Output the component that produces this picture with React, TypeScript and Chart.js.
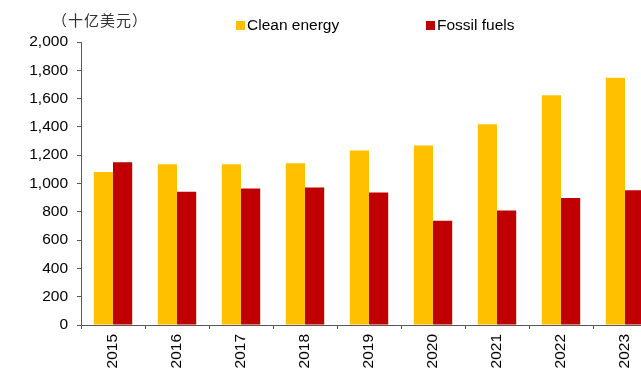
import { useEffect, useRef } from "react";
import { Chart, registerables } from "chart.js";

Chart.register(...registerables);

// Annual investment, billions of US dollars
const years = ["2015", "2016", "2017", "2018", "2019", "2020", "2021", "2022", "2023"];
const cleanEnergy = [1082, 1136, 1136, 1143, 1233, 1268, 1418, 1623, 1748];
const fossilFuels = [1150, 941, 965, 972, 936, 736, 809, 898, 953];

const yMin = 0;
const yMax = 2000;
const yStep = 200;

const unitLabel = "（十亿美元）";
const seriesNames = ["Clean energy", "Fossil fuels"];
const seriesColors = ["#FFC000", "#C00000"];

const AXIS_COLOR = "#595959";
const FONT = "'Liberation Sans', Arial, sans-serif";
const FONT_SIZE = 15.5;

export default function App() {
  const canvasRef = useRef<HTMLCanvasElement | null>(null);

  useEffect(() => {
    const canvas = canvasRef.current;
    if (!canvas) return;
    const chart = new Chart(canvas, {
      type: "bar",
      data: {
        labels: years,
        datasets: [
          {
            label: seriesNames[0],
            data: cleanEnergy,
            backgroundColor: seriesColors[0],
            borderWidth: 0,
          },
          {
            label: seriesNames[1],
            data: fossilFuels,
            backgroundColor: seriesColors[1],
            borderWidth: 0,
          },
        ],
      },
      options: {
        responsive: false,
        animation: false,
        devicePixelRatio: 1,
        locale: "en-US",
        layout: { padding: { top: 42, right: 3, left: 0, bottom: 0 } },
        datasets: {
          bar: { barPercentage: 1, categoryPercentage: 0.6 },
        },
        plugins: {
          legend: { display: false },
          tooltip: { enabled: false },
          title: { display: false },
        },
        scales: {
          x: {
            offset: true,
            grid: {
              offset: true,
              drawOnChartArea: false,
              drawTicks: true,
              tickLength: 4,
              color: AXIS_COLOR,
            },
            border: { display: true, color: AXIS_COLOR, width: 1 },
            ticks: {
              autoSkip: false,
              minRotation: 90,
              maxRotation: 90,
              padding: 5,
              color: "#000",
              font: { family: FONT, size: FONT_SIZE },
            },
            afterFit: (scale: any) => {
              scale.height = 43;
            },
          },
          y: {
            min: yMin,
            max: yMax,
            grid: {
              drawOnChartArea: false,
              drawTicks: true,
              tickLength: 4,
              color: AXIS_COLOR,
            },
            border: { display: true, color: AXIS_COLOR, width: 1 },
            ticks: {
              stepSize: yStep,
              padding: 9,
              color: "#000",
              font: { family: FONT, size: FONT_SIZE },
              callback: (v: any) => Number(v).toLocaleString("en-US"),
            },
            afterFit: (scale: any) => {
              scale.width = 81;
            },
          },
        },
      },
    });
    return () => chart.destroy();
  }, []);

  const legendText: React.CSSProperties = {
    position: "absolute",
    top: 15,
    fontFamily: FONT,
    fontSize: FONT_SIZE,
    lineHeight: "20px",
    color: "#000",
    whiteSpace: "nowrap",
  };
  const legendBox: React.CSSProperties = {
    position: "absolute",
    top: 21,
    width: 9,
    height: 9,
  };

  return (
    <div
      style={{
        position: "fixed",
        left: 0,
        top: 0,
        width: 641,
        height: 368,
        overflow: "hidden",
        background: "#fff",
      }}
    >
      <div style={{ position: "absolute", left: 0, top: 0, width: 660, height: 368 }}>
        <canvas ref={canvasRef} width={660} height={368} style={{ display: "block", width: 660, height: 368 }} />
      </div>
      <div
        style={{
          position: "absolute",
          left: 52,
          top: 10,
          fontFamily: "'Noto Sans CJK SC', sans-serif",
          fontSize: 15,
          lineHeight: "20px",
          letterSpacing: 1,
          color: "#333",
          whiteSpace: "nowrap",
        }}
      >
        {unitLabel}
      </div>
      <div style={{ ...legendBox, left: 236, background: seriesColors[0] }} />
      <div style={{ ...legendText, left: 247 }}>{seriesNames[0]}</div>
      <div style={{ ...legendBox, left: 426, background: seriesColors[1] }} />
      <div style={{ ...legendText, left: 437 }}>{seriesNames[1]}</div>
    </div>
  );
}
